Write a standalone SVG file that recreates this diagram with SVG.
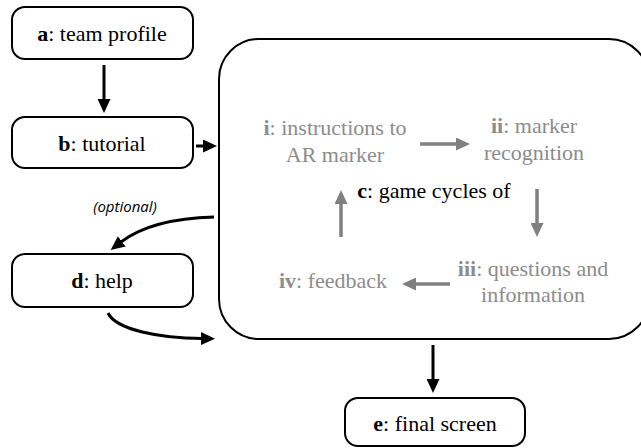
<svg xmlns="http://www.w3.org/2000/svg" width="641" height="448" viewBox="0 0 641 448">
<style>
.box{fill:#fff;stroke:#000;stroke-width:2}
.t{font-family:"Liberation Serif","Times New Roman",serif;font-size:22px;fill:#000;text-anchor:middle}
.g{font-family:"Liberation Serif","Times New Roman",serif;font-size:22px;fill:#8c8c8c;text-anchor:middle}
.opt{font-family:"Open Sans","Noto Sans",sans-serif;font-style:italic;font-size:15px;fill:#000;text-anchor:middle}
.ck{fill:none;stroke:#000;stroke-width:3}
.cg{fill:none;stroke:#808080;stroke-width:3.5}
</style>
<defs>
<marker id="hk" markerUnits="userSpaceOnUse" viewBox="0 0 14 13" refX="1" refY="6.5" markerWidth="14" markerHeight="13" orient="auto"><path d="M0,0 L14,6.5 L0,13 z" fill="#000"/></marker>
<marker id="hg" markerUnits="userSpaceOnUse" viewBox="0 0 14 13" refX="1" refY="6.5" markerWidth="14" markerHeight="13" orient="auto"><path d="M0,0 L14,6.5 L0,13 z" fill="#808080"/></marker>
</defs>
<g id="c">
<rect class="box" x="219" y="39" width="430" height="300" rx="40" ry="40"/>
<text class="t" x="434" y="198"><tspan font-weight="bold">c</tspan>: game cycles of</text>
</g>
<g id="i"><text class="g" x="335" y="135"><tspan font-weight="bold">i</tspan>: instructions to</text><text class="g" x="335" y="162">AR marker</text></g>
<g id="ii"><text class="g" x="534" y="133"><tspan font-weight="bold">ii</tspan>: marker</text><text class="g" x="534" y="160">recognition</text></g>
<g id="iii"><text class="g" x="533" y="276"><tspan font-weight="bold">iii</tspan>: questions and</text><text class="g" x="533" y="302">information</text></g>
<g id="iv"><text class="g" x="333" y="288"><tspan font-weight="bold">iv</tspan>: feedback</text></g>
<g id="a"><rect class="box" x="12" y="7" width="181" height="52" rx="13"/><text class="t" x="102" y="41"><tspan font-weight="bold">a</tspan>: team profile</text></g>
<g id="b"><rect class="box" x="12" y="117" width="181" height="51" rx="13"/><text class="t" x="102" y="151"><tspan font-weight="bold">b</tspan>: tutorial</text></g>
<g id="d"><rect class="box" x="12" y="254" width="181" height="53" rx="13"/><text class="t" x="102" y="288"><tspan font-weight="bold">d</tspan>: help</text></g>
<g id="e"><rect class="box" x="345" y="398" width="180" height="48" rx="13"/><text class="t" x="435" y="431"><tspan font-weight="bold">e</tspan>: final screen</text></g>
<g id="connectors">
<line class="ck" x1="104" y1="65" x2="104" y2="100" marker-end="url(#hk)"/>
<line class="ck" x1="196" y1="146" x2="204" y2="146" marker-end="url(#hk)"/>
<line class="ck" x1="433" y1="345" x2="433" y2="380" marker-end="url(#hk)"/>
<path class="ck" d="M214 217 C176 218 142 226 121 242" marker-end="url(#hk)"/>
<path class="ck" d="M108 313 C116 330 160 338 202 338.5" marker-end="url(#hk)"/>
<text class="opt" x="125" y="212">(optional)</text>
<line class="cg" x1="420" y1="144" x2="457" y2="144" marker-end="url(#hg)"/>
<line class="cg" x1="537" y1="189" x2="537" y2="224" marker-end="url(#hg)"/>
<line class="cg" x1="450" y1="284" x2="415" y2="284" marker-end="url(#hg)"/>
<line class="cg" x1="341" y1="237" x2="341" y2="203" marker-end="url(#hg)"/>
</g>
</svg>
